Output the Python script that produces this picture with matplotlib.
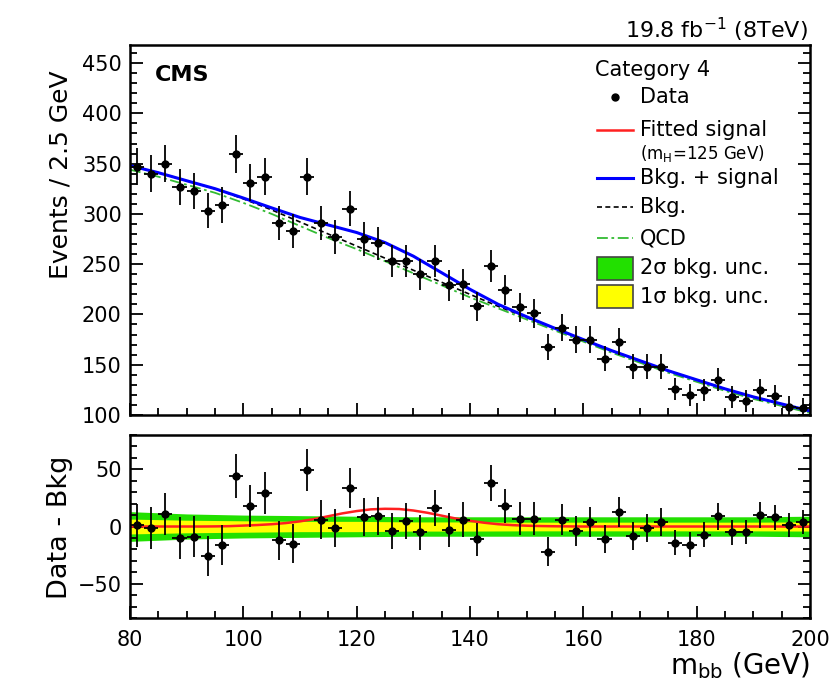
import numpy as np
import matplotlib
matplotlib.use("Agg")
import matplotlib.pyplot as plt
from matplotlib.patches import Rectangle
from matplotlib.ticker import MultipleLocator

# bin centres (2.5 GeV bins) and observed events
mbb = np.arange(81.25, 200, 2.5)
counts = [347, 340, 350, 327, 323, 303, 309, 360, 331, 337, 291, 283,
          337, 291, 277, 305, 275, 271, 253, 253, 240, 253, 229, 230,
          208, 248, 224, 207, 201, 168, 187, 175, 175, 156, 173, 148,
          148, 148, 126, 120, 125, 135, 118, 114, 125, 119, 108, 107]
# data - bkg
resid = [1, -1, 11, -10, -9, -26, -16, 44, 18, 29, -12, -15,
         49, 6, -1, 34, 8, 9, -4, 5, -5, 16, -3, 6,
         -11, 38, 18, 7, 7, -22, 6, -4, 4, -11, 13, -8,
         -1, 4, -14, -16, -7, 9, -5, -5, 10, 8, 1, 4]

# fitted curves
x_curve = np.arange(80, 201, 5)
bkg = [348, 341, 333, 325, 315, 304, 292, 280, 268, 256, 244, 232, 220,
       208, 197, 186, 175, 164, 154, 144, 135, 126, 118, 111, 104]
qcd = [344, 337, 329, 321, 311, 300, 288, 276, 265, 253, 241, 229, 217,
       206, 195, 184, 173, 162, 152, 142, 133, 124, 116, 109, 102]
x_sig = np.arange(80, 200.1, 2.5)
signal = [0, 0, 0, 0, 0, 0, 0.1, 0.3, 0.8, 1.3, 2.0, 3.0, 4.5, 6.5, 9.0,
          11.5, 13.5, 15.0, 15.5, 15.3, 14.0, 12.0, 9.5, 7.0, 5.0, 3.3,
          2.0, 1.2, 0.7, 0.4, 0.2, 0.1, 0, 0, 0, 0, 0, 0, 0, 0, 0, 0, 0,
          0, 0, 0, 0, 0, 0]

# bkg uncertainty bands (half widths)
x_band = np.arange(80, 201, 10)
band2 = [13, 11, 10, 9.5, 9, 8.5, 8.5, 8.5, 8.5, 8.5, 8.5, 8.5, 9]
band1 = [6.5, 5.5, 5, 4.5, 4.5, 4, 4, 3.8, 3.8, 3.8, 3.8, 3.8, 4]

green = "#22e000"
yellow = "#ffff00"

fig = plt.figure(figsize=(8.31, 6.84), dpi=100)
ax1 = fig.add_axes([0.1564, 0.3933, 0.8183, 0.5409])
ax2 = fig.add_axes([0.1564, 0.0965, 0.8183, 0.2675])

sig_arr = np.array(signal)
blue = np.array(bkg) + sig_arr[::2]
err = np.sqrt(counts)

# upper panel
ax1.plot(x_curve, qcd, color="#33bb33", lw=1.3, ls=(0, (6, 2, 1.5, 2)))
ax1.plot(x_curve, bkg, color="black", lw=1.2, ls=(0, (3, 2)))
ax1.plot(x_curve, blue, color="#0000ff", lw=2.2)
ax1.errorbar(mbb, counts, yerr=err, xerr=1.25, fmt="o", color="black",
             ms=5, elinewidth=1.3, capsize=0, zorder=5)
ax1.set_xlim(80, 200)
ax1.set_ylim(100, 468)

# lower panel
ax2.fill_between(x_band, -np.array(band2), band2, color=green, lw=0)
ax2.fill_between(x_band, -np.array(band1), band1, color=yellow, lw=0)
ax2.plot(x_sig, signal, color="#ff2020", lw=1.8)
ax2.errorbar(mbb, resid, yerr=err, xerr=1.25, fmt="o", color="black",
             ms=5, elinewidth=1.3, capsize=0, zorder=5)
ax2.set_xlim(80, 200)
ax2.set_ylim(-80, 80)

for ax in (ax1, ax2):
    for s in ax.spines.values():
        s.set_linewidth(1.8)
    ax.xaxis.set_major_locator(MultipleLocator(20))
    ax.xaxis.set_minor_locator(MultipleLocator(5))
    ax.yaxis.set_major_locator(MultipleLocator(50))
    ax.yaxis.set_minor_locator(MultipleLocator(10))
    ax.tick_params(which="both", direction="in", right=True, top=False,
                   labelsize=15, width=1.3)
    ax.tick_params(which="major", length=9, pad=6)
    ax.tick_params(which="minor", length=5)
ax1.tick_params(axis="x", labelbottom=False)
ax2.tick_params(axis="x", pad=9)

ax2.set_xlabel("m$_{\\mathregular{bb}}$ (GeV)", fontsize=20, loc="right",
               labelpad=0)
fig.text(60 / 831, 1 - 70 / 684, "Events / 2.5 GeV", rotation=90,
         ha="center", va="top", fontsize=18)
fig.text(60 / 831, 1 - 527 / 684, "Data - Bkg", rotation=90,
         ha="center", va="center", fontsize=19.5)
fig.text(808 / 831, 1 - 30 / 684, "19.8 fb$^{\\mathregular{-1}}$ (8TeV)",
         ha="right", va="center", fontsize=16)
ax1.text(0.037, 0.919, "CMS", transform=ax1.transAxes, fontsize=16,
         fontweight="bold", va="center")

# legend, drawn by hand
tr = ax1.transAxes
hx0, hx1, tx = 0.687, 0.740, 0.75
ax1.text(0.684, 0.932, "Category 4", transform=tr, fontsize=15, va="center")
ax1.plot([0.7135], [0.859], "o", color="black", ms=5, transform=tr)
ax1.text(tx, 0.859, "Data", transform=tr, fontsize=15, va="center")
rows = [(0.770, "Fitted signal", dict(color="#ff2020", lw=1.8)),
        (0.641, "Bkg. + signal", dict(color="#0000ff", lw=2.2)),
        (0.562, "Bkg.", dict(color="black", lw=1.2, ls=(0, (3, 2)))),
        (0.478, "QCD", dict(color="#33bb33", lw=1.3, ls=(0, (6, 2, 1.5, 2))))]
for y, label, style in rows:
    ax1.plot([hx0, hx1], [y, y], transform=tr, **style)
    ax1.text(tx, y, label, transform=tr, fontsize=15, va="center")
ax1.text(tx, 0.708, "(m$_{\\mathregular{H}}$=125 GeV)", transform=tr,
         fontsize=12, va="center")
for y, label, col in [(0.397, "2\u03c3 bkg. unc.", green),
                      (0.319, "1\u03c3 bkg. unc.", yellow)]:
    ax1.add_patch(Rectangle((hx0, y - 0.031), hx1 - hx0, 0.062,
                            transform=tr, facecolor=col, edgecolor="#444444",
                            lw=1.2))
    ax1.text(tx, y, label, transform=tr, fontsize=15, va="center")

fig.savefig("out.png", dpi=100)
